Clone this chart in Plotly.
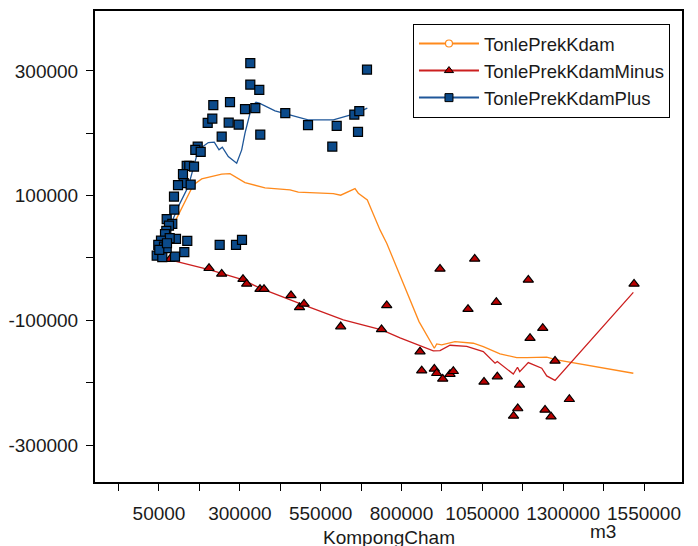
import plotly.graph_objects as go

# ---- data ----
plus_x = [332400, 332400, 360200, 218000, 269600, 316000, 347900, 200600, 214900, 265600,
          296500, 243900, 363300, 169700, 162300, 179000, 135700, 143700, 158300, 124200,
          126400, 108800, 148000, 96400, 97300, 73800, 91100, 80900, 72600, 68600,
          102600, 83100, 56200, 137500, 237700, 288200, 306700, 47800, 65500, 128300,
          42900, 60200, 99500, 73800, 50900, 74700, 440600, 510900, 599600, 586000,
          654100, 669500, 665500, 693300]
plus_y = [312400, 278000, 269500, 245000, 249800, 238600, 240200, 216600, 223500, 217100,
          213900, 194600, 197800, 178600, 173300, 170100, 147600, 147600, 146500, 134300,
          119900, 116700, 117600, 98400, 77500, 62100, 54600, 51900, 43400, 38100,
          30500, 31700, 27800, 27300, 20900, 20900, 28900, 20900, 18200, 9200,
          3700, 1200, 2100, 15600, 12900, 23600, 232200, 212900, 211800, 178600,
          229900, 235400, 202200, 302100]

minus_x = [84000, 204700, 243900, 309800, 321300, 362400, 374800, 458300, 484600, 498500,
           612000, 738200, 754300, 857300, 862500, 901500, 908900, 927500, 950100, 960300,
           919100, 1026400, 1005700, 1055200, 1093300, 1096300, 1165000, 1159500, 1146500,
           1192200, 1197500, 1236800, 1243900, 1262500, 1274800, 1319100, 1519200]
minus_y = [-2000, -16500, -25600, -34100, -41700, -50100, -50100, -60100, -79300, -73700,
           -110100, -114600, -76100, -150200, -180700, -178000, -184900, -194000, -186500, -181700,
           -17600, -1600, -82200, -198800, -71000, -190300, -203700, -241400, -253400,
           -35200, -128700, -112700, -243800, -254500, -165200, -226600, -41700]

base_line_x = [53100, 99500, 156100, 182100, 243900, 269600, 316000, 352200, 377900, 455200,
               480800, 589100, 611900, 656200, 666400, 694300, 733500, 754300, 854200, 901500,
               908900, 924400, 965500, 1022100, 1053000, 1104700, 1156300, 1187300, 1249100,
               1280100, 1517000]
base_line_y = [12900, 58300, 117100, 126800, 134300, 135300, 120800, 115500, 112300, 109100,
               105400, 103200, 100600, 111200, 103800, 93100, 45000, 23600, -102100, -144800,
               -137900, -139500, -134200, -136800, -142200, -153900, -159900, -159900, -159200,
               -163600, -184900]

minus_line_x = [46900, 207700, 310700, 362400, 496300, 620000, 738800, 795500, 898400, 919100,
                950100, 1001700, 1053000, 1089300, 1096300, 1145800, 1158800, 1165600, 1192200,
                1233700, 1249200, 1274800, 1517000]
minus_line_y = [1700, -19200, -35200, -48500, -75300, -99400, -115400, -128300, -149100, -148600,
                -140000, -141900, -150200, -168800, -166000, -186300, -175300, -182300, -167800,
                -176900, -189200, -196400, -55300]

plus_line_x = [46900, 84000, 109700, 140600, 171500, 202500, 221000, 235600, 245800, 264300,
               290300, 305800, 316000, 336700, 350000, 360200, 408800, 440600, 510900, 589100,
               654100, 694300]
plus_line_y = [9700, 50300, 82300, 114400, 173300, 185000, 185600, 173300, 177600, 162500,
               151900, 173300, 200100, 242700, 249800, 248200, 235800, 231000, 221400, 221400,
               231000, 240200]

names = ["TonlePrekKdam", "TonlePrekKdamMinus", "TonlePrekKdamPlus"]
y_tickvals = [-300000, -200000, -100000, 0, 100000, 200000, 300000]
y_ticktext = ["-300000", "", "-100000", "", "100000", "", "300000"]
x_tickvals = [-75000, 50000, 175000, 300000, 425000, 550000, 675000, 800000, 925000,
              1050000, 1175000, 1300000, 1425000, 1550000]
x_ticktext = ["", "50000", "", "300000", "", "550000", "", "800000", "", "1050000", "",
              "1300000", "", "1550000"]

ORANGE = "#ff8a1c"
RED = "#cc1f1f"
BLUE = "#1f5799"
SQ_FILL = "#0b4a8a"
TRI_FILL = "#b80000"

fig = go.Figure()

# lines
fig.add_trace(go.Scatter(x=base_line_x, y=base_line_y, mode="lines",
                         line=dict(color=ORANGE, width=1.3), showlegend=False, hoverinfo="skip"))
fig.add_trace(go.Scatter(x=minus_line_x, y=minus_line_y, mode="lines",
                         line=dict(color=RED, width=1.3), showlegend=False, hoverinfo="skip"))
fig.add_trace(go.Scatter(x=plus_line_x, y=plus_line_y, mode="lines",
                         line=dict(color=BLUE, width=1.3), showlegend=False, hoverinfo="skip"))
# points
fig.add_trace(go.Scatter(x=minus_x, y=minus_y, mode="markers",
                         marker=dict(symbol="triangle-up", size=9, color=TRI_FILL,
                                     line=dict(color="black", width=1.2)),
                         showlegend=False))
fig.add_trace(go.Scatter(x=plus_x, y=plus_y, mode="markers",
                         marker=dict(symbol="square", size=9, color=SQ_FILL,
                                     line=dict(color="black", width=1.2)),
                         showlegend=False))

# legend entries
fig.add_trace(go.Scatter(x=[None], y=[None], mode="lines+markers", name=names[0],
                         line=dict(color=ORANGE, width=2),
                         marker=dict(symbol="circle", size=7, color="white",
                                     line=dict(color=ORANGE, width=1.2))))
fig.add_trace(go.Scatter(x=[None], y=[None], mode="lines+markers", name=names[1],
                         line=dict(color=RED, width=2),
                         marker=dict(symbol="triangle-up", size=8, color=TRI_FILL,
                                     line=dict(color="black", width=1))))
fig.add_trace(go.Scatter(x=[None], y=[None], mode="lines+markers", name=names[2],
                         line=dict(color=BLUE, width=2),
                         marker=dict(symbol="square", size=8, color=SQ_FILL,
                                     line=dict(color="black", width=1))))

FONT = "Liberation Sans, Arial, sans-serif"

fig.update_layout(
    width=698, height=546,
    margin=dict(l=95, r=16, t=11, b=64, autoexpand=False),
    paper_bgcolor="white", plot_bgcolor="white",
    font=dict(family=FONT, size=19, color="#1a1a1a"),
    showlegend=True,
    legend=dict(x=0.5417, y=0.9724, xanchor="left", yanchor="top",
                bgcolor="white", bordercolor="black", borderwidth=1,
                font=dict(size=18.5, color="#1a1a1a"), itemwidth=60,
                tracegroupgap=0),
    xaxis=dict(range=[-147900, 1667500], tickmode="array", tickvals=x_tickvals,
               ticktext=x_ticktext, ticks="outside", ticklen=7, tickwidth=1,
               tickcolor="black", showgrid=False, zeroline=False, automargin=False,
               showline=True, linecolor="black", linewidth=2, mirror=True,
               ticklabelstandoff=6),
    yaxis=dict(range=[-359300, 396000], tickmode="array", tickvals=y_tickvals,
               ticktext=y_ticktext, ticks="outside", ticklen=7, tickwidth=1,
               tickcolor="black", showgrid=False, zeroline=False, automargin=False,
               showline=True, linecolor="black", linewidth=2, mirror=True,
               ticklabelstandoff=4),
    annotations=[
        dict(text="KompongCham", xref="paper", yref="paper", x=0.5, y=-0.117,
             xanchor="center", yanchor="middle", showarrow=False,
             font=dict(size=19, color="#1a1a1a")),
        dict(text="m3", xref="paper", yref="paper", x=0.865, y=-0.106,
             xanchor="center", yanchor="middle", showarrow=False,
             font=dict(size=19, color="#1a1a1a")),
    ],
)

fig.write_html("out.html", config={"displayModeBar": False},
               post_script="document.body.style.margin='0';document.body.style.padding='0';")
